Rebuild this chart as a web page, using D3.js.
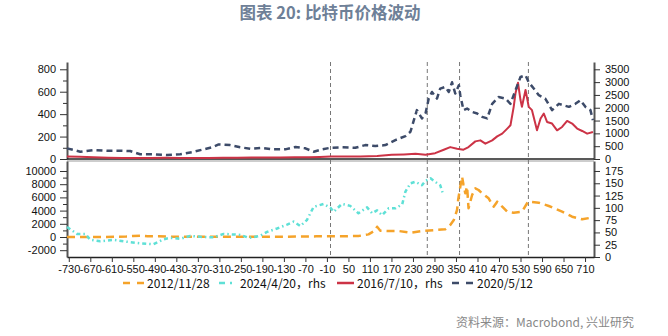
<!DOCTYPE html>
<html><head><meta charset="utf-8">
<script src="https://cdn.jsdelivr.net/npm/d3@7"></script>
<style>
html,body{margin:0;padding:0;background:#fff;}
svg{display:block;}
</style></head>
<body>
<svg id="chart" width="668" height="336"></svg>
<script>
// ---------- data ----------
const title = "图表 20: 比特币价格波动";
const source = "资料来源：Macrobond, 兴业研究";
const seriesNames = ["2012/11/28", "2024/4/20，rhs", "2016/7/10，rhs", "2020/5/12"];
const xTicks = d3.range(-730, 711, 60);
const topLeftTicks = [0, 200, 400, 600, 800];
const topLeftMinor = [100, 300, 500, 700];
const topRightTicks = [0, 500, 1000, 1500, 2000, 2500, 3000, 3500];
const botLeftTicks = [-2000, 0, 2000, 4000, 6000, 8000, 10000];
const botLeftMinor = [-1000, 1000, 3000, 5000, 7000, 9000];
const botRightTicks = [0, 25, 50, 75, 100, 125, 150, 175];
const markerDays = [0, 270, 360, 552];

// 2020/5/12 cycle (top panel, left axis)
const days2020 = [-735,-698,-661,-624,-587,-559,-531,-494,-456,-419,-387,-354,-331,-312,-280,-252,-224,-191,-159,-126,-98,-70,-47,-24,0,32,69,97,125,153,181,209,223,241,255,265,274,283,297,306,320,330,339,348,358,362,371,381,395,409,423,437,451,469,488,502,516,530,544,553,567,581,599,618,637,651,665,683,697,711,725,732];
const vals2020 = [95,65,80,74,74,71,42,42,36,42,60,86,104,130,124,104,92,98,86,86,107,95,65,86,100,104,100,124,116,124,169,204,243,436,362,406,539,598,539,628,643,598,684,584,658,569,436,450,420,406,376,362,492,553,539,492,613,731,747,684,628,569,539,436,492,478,465,492,524,465,436,347];

// 2016/7/10 cycle (top panel, right axis)
const days2016 = [-735,-700,-660,-620,-580,-540,-500,-460,-420,-380,-340,-300,-260,-220,-180,-140,-100,-60,-30,0,40,83,130,171,205,237,265,292,316,334,353,371,385,404,418,432,451,465,479,493,502,511,516,523,530,534,544,553,562,576,586,595,604,618,632,646,660,674,688,702,716,732];
const vals2016 = [100,85,65,50,40,40,42,45,42,40,40,45,48,55,60,62,68,66,80,100,95,100,120,165,180,204,165,228,362,464,400,362,464,688,727,597,727,884,990,1187,1317,2036,2562,2979,2299,2036,2692,2036,1906,1120,1580,1776,1446,1383,1120,1250,1486,1383,1187,1093,990,1053];

// 2012/11/28 cycle (bottom panel, left axis)
const days2012 = [-735,-700,-650,-600,-570,-550,-530,-510,-480,-450,-400,-360,-320,-280,-240,-200,-160,-120,-80,-40,0,40,78,106,125,130,139,162,190,223,255,292,320,334,344,353,356,362,367,371,376,381,385,395,404,413,423,441,455,465,479,493,511,534,551,581,609,646,674,702,732];
const vals2012 = [3,3,6,25,80,150,200,120,110,50,30,25,40,45,50,40,42,45,80,95,100,110,150,400,1000,1560,960,910,910,650,910,1060,1160,1820,2580,4090,5600,7620,9140,7880,6620,7620,4350,6360,7370,7120,6620,5860,4590,5350,4590,3830,3680,3830,5350,5200,4700,3830,3080,2680,2980];

// 2024/4/20 cycle (bottom panel, right axis)
const days2024 = [-735,-707,-684,-670,-642,-605,-568,-531,-494,-466,-447,-419,-391,-363,-326,-298,-252,-228,-196,-177,-149,-121,-103,-84,-66,-47,-19,0,9,32,55,78,102,116,130,144,162,181,200,209,223,237,255,265,279,292,306,313];
const vals2024 = [61,47,47,35,32,35,31,28,26,36,39,37,43,41,40,47,45,39,43,51,58,66,72,63,75,102,108,100,92,108,104,89,101,89,95,85,99,99,107,133,150,153,146,155,160,153,146,130];

// ---------- drawing ----------
const colors = {o:"#f5a32a", c:"#5fe0d6", r:"#cc3346", b:"#3d4b69"};
const svg = d3.select("#chart");
const FONT = "'Liberation Sans', Arial, sans-serif";
const CJK = "'Noto Sans CJK SC', sans-serif";

const x = d3.scaleLinear().domain([-735, 735]).range([67, 594]);
const yTL = d3.scaleLinear().domain([0, 865]).range([159, 62]);
const yTR = d3.scaleLinear().domain([0, 3785]).range([159, 62]);
const yBL = d3.scaleLinear().domain([-3030, 11515]).range([257, 161]);
const yBR = d3.scaleLinear().domain([0, 195.3]).range([257, 161]);

svg.append("text").attr("x", 330).attr("y", 19).attr("text-anchor","middle")
  .attr("font-family", CJK).attr("font-weight","bold").attr("font-size", 16.5)
  .attr("fill", "#6e8097").text(title);

// panel separator (bottom panel top border)
svg.append("line").attr("x1", 67).attr("x2", 594).attr("y1", 161).attr("y2", 161)
  .attr("stroke", "#bdbdbd").attr("stroke-width", 1.5);

function styleAxis(g, lineColor){
  g.selectAll("text").attr("font-family", FONT).attr("font-size", 11).attr("fill", "#111");
  g.selectAll(".tick line").attr("stroke", "#333");
  g.select(".domain").attr("stroke", lineColor).attr("stroke-width", 2);
}
function fmt(d){ return String(d).replace("-", "-"); }

// top-left axis
let g = svg.append("g").attr("transform","translate(67,0)")
  .call(d3.axisLeft(yTL).tickValues(topLeftTicks).tickSize(7).tickSizeOuter(0).tickPadding(4).tickFormat(fmt));
styleAxis(g, "#555");
g = svg.append("g").attr("transform","translate(67,0)")
  .call(d3.axisLeft(yTL).tickValues(topLeftMinor).tickSize(4).tickSizeOuter(0).tickFormat(""));
g.select(".domain").remove(); g.selectAll(".tick line").attr("stroke","#333");
// top-right axis
g = svg.append("g").attr("transform","translate(594,0)")
  .call(d3.axisRight(yTR).tickValues(topRightTicks).tickSize(6).tickSizeOuter(0).tickPadding(5).tickFormat(fmt));
styleAxis(g, "#555");
// top x baseline
svg.append("line").attr("x1",67).attr("x2",594).attr("y1",159).attr("y2",159)
  .attr("stroke","#222").attr("stroke-width",1.5);

// bottom-left axis
g = svg.append("g").attr("transform","translate(67,0)")
  .call(d3.axisLeft(yBL).tickValues(botLeftTicks).tickSize(7).tickSizeOuter(0).tickPadding(4).tickFormat(fmt));
styleAxis(g, "#555");
g = svg.append("g").attr("transform","translate(67,0)")
  .call(d3.axisLeft(yBL).tickValues(botLeftMinor).tickSize(4).tickSizeOuter(0).tickFormat(""));
g.select(".domain").remove(); g.selectAll(".tick line").attr("stroke","#333");
// bottom-right axis
g = svg.append("g").attr("transform","translate(594,0)")
  .call(d3.axisRight(yBR).tickValues(botRightTicks).tickSize(6).tickSizeOuter(0).tickPadding(5).tickFormat(fmt));
styleAxis(g, "#555");
// bottom x axis
g = svg.append("g").attr("transform","translate(0,257)")
  .call(d3.axisBottom(x).tickValues(xTicks).tickSize(5).tickSizeOuter(0).tickPadding(3).tickFormat(fmt));
styleAxis(g, "#222");
g.select(".domain").attr("stroke-width",1.5);

// vertical marker lines
svg.append("g").selectAll("line").data(markerDays).join("line")
  .attr("x1", d => x(d)).attr("x2", d => x(d)).attr("y1", 62).attr("y2", 257)
  .attr("stroke", "#777").attr("stroke-width", 1).attr("stroke-dasharray", "4,3");

function series(days, vals){ return days.map((d,i)=>({d, v: vals[i]})); }
function draw(data, ys, color, dash, w){
  const line = d3.line().x(p => x(p.d)).y(p => ys(p.v));
  svg.append("path").datum(data).attr("d", line).attr("fill","none")
    .attr("stroke", color).attr("stroke-width", w)
    .attr("stroke-dasharray", dash).attr("stroke-linejoin","round");
}
draw(series(days2016, vals2016), yTR, colors.r, null, 2);
draw(series(days2020, vals2020), yTL, colors.b, "6,4", 2.5);
draw(series(days2012, vals2012), yBL, colors.o, "8,5", 2.5);
draw(series(days2024, vals2024), yBR, colors.c, "4,3,1.5,3", 2.5);

// legend
const legendItems = [
  {name: seriesNames[0], color: colors.o, dash: "7,7", x0: 123, x1: 145, tx: 147},
  {name: seriesNames[1], color: colors.c, dash: "6,5,2,5", x0: 219, x1: 236, tx: 240},
  {name: seriesNames[2], color: colors.r, dash: null, x0: 337, x1: 354, tx: 357},
  {name: seriesNames[3], color: colors.b, dash: "7,7", x0: 452, x1: 473, tx: 477}
];
const lg = svg.append("g");
legendItems.forEach(it => {
  lg.append("line").attr("x1", it.x0).attr("x2", it.x1).attr("y1", 283).attr("y2", 283)
    .attr("stroke", it.color).attr("stroke-width", 2.5).attr("stroke-dasharray", it.dash);
  lg.append("text").attr("x", it.tx).attr("y", 287.5).attr("font-family", CJK)
    .attr("font-size", 12).attr("fill", "#111").text(it.name);
});

svg.append("text").attr("x", 634).attr("y", 327).attr("text-anchor","end")
  .attr("font-family", CJK).attr("font-size", 12).attr("fill", "#888").text(source);
</script>
</body></html>
